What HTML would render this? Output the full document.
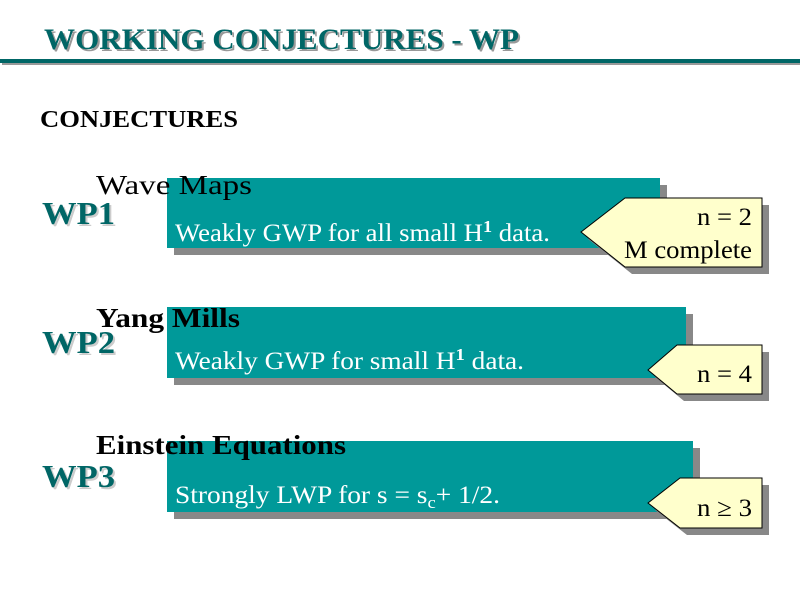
<!DOCTYPE html>
<html><head><meta charset="utf-8"><style>body{margin:0;background:#fff}svg{display:block}</style></head>
<body>
<svg width="800" height="600" xmlns="http://www.w3.org/2000/svg" font-family="'Liberation Serif', serif">
<rect width="800" height="600" fill="#fff"/>
<text x="44" y="49" font-size="30" font-weight="bold" fill="#999" transform="translate(2,2)" textLength="475" lengthAdjust="spacingAndGlyphs">WORKING CONJECTURES - WP</text>
<text x="44" y="49" font-size="30" font-weight="bold" fill="#006666" textLength="475" lengthAdjust="spacingAndGlyphs">WORKING CONJECTURES - WP</text>
<rect x="2" y="61" width="798" height="4" fill="#999"/>
<rect x="0" y="59" width="800" height="4" fill="#006666"/>
<text x="40" y="127" font-size="24" font-weight="bold" fill="#000" textLength="198" lengthAdjust="spacingAndGlyphs">CONJECTURES</text>

<!-- box1 -->
<rect x="174" y="185" width="493" height="70" fill="#888"/>
<rect x="167" y="178" width="493" height="70" fill="#009999"/>
<text x="96" y="194" font-size="27" fill="#000" textLength="156" lengthAdjust="spacingAndGlyphs">Wave Maps</text>
<text x="42" y="224" font-size="32" font-weight="bold" fill="#ccc" transform="translate(2,2)" textLength="73" lengthAdjust="spacingAndGlyphs">WP1</text>
<text x="42" y="224" font-size="32" font-weight="bold" fill="#006666" textLength="73" lengthAdjust="spacingAndGlyphs">WP1</text>
<text x="175" y="241" font-size="25" fill="#fff" textLength="375" lengthAdjust="spacingAndGlyphs">Weakly GWP for all small H<tspan font-size="17" dy="-9" font-weight="bold">1</tspan><tspan dy="9"> data.</tspan></text>
<polygon points="588,239 632,205 769,205 769,274 632,274" fill="#888"/>
<polygon points="581,232 625,198 762,198 762,267 625,267" fill="#ffffcc" stroke="#000" stroke-width="1"/>
<text x="752" y="225" font-size="25" text-anchor="end" textLength="55" lengthAdjust="spacingAndGlyphs">n = 2</text>
<text x="752" y="258" font-size="25" text-anchor="end" textLength="128" lengthAdjust="spacingAndGlyphs">M complete</text>

<!-- box2 -->
<rect x="174" y="314" width="519" height="71" fill="#888"/>
<rect x="167" y="307" width="519" height="71" fill="#009999"/>
<text x="96" y="327" font-size="27" font-weight="bold" fill="#000" textLength="144" lengthAdjust="spacingAndGlyphs">Yang Mills</text>
<text x="42" y="353" font-size="32" font-weight="bold" fill="#ccc" transform="translate(2,2)" textLength="73" lengthAdjust="spacingAndGlyphs">WP2</text>
<text x="42" y="353" font-size="32" font-weight="bold" fill="#006666" textLength="73" lengthAdjust="spacingAndGlyphs">WP2</text>
<text x="175" y="369" font-size="25" fill="#fff" textLength="349" lengthAdjust="spacingAndGlyphs">Weakly GWP for  small H<tspan font-size="17" dy="-9" font-weight="bold">1</tspan><tspan dy="9"> data.</tspan></text>
<polygon points="655,377 684,352 769,352 769,401 684,401" fill="#888"/>
<polygon points="648,370 677,345 762,345 762,394 677,394" fill="#ffffcc" stroke="#000" stroke-width="1"/>
<text x="752" y="382" font-size="25" text-anchor="end" textLength="55" lengthAdjust="spacingAndGlyphs">n = 4</text>

<!-- box3 -->
<rect x="174" y="448" width="526" height="71" fill="#888"/>
<rect x="167" y="441" width="526" height="71" fill="#009999"/>
<text x="96" y="454" font-size="27" font-weight="bold" fill="#000" textLength="250" lengthAdjust="spacingAndGlyphs">Einstein Equations</text>
<text x="42" y="487" font-size="32" font-weight="bold" fill="#ccc" transform="translate(2,2)" textLength="73" lengthAdjust="spacingAndGlyphs">WP3</text>
<text x="42" y="487" font-size="32" font-weight="bold" fill="#006666" textLength="73" lengthAdjust="spacingAndGlyphs">WP3</text>
<text x="175" y="503" font-size="25" fill="#fff" textLength="325" lengthAdjust="spacingAndGlyphs">Strongly LWP for  s = s<tspan font-size="17" dy="5">c</tspan><tspan dy="-5">+ 1/2.</tspan></text>
<polygon points="655,510 687,485 769,485 769,535 687,535" fill="#888"/>
<polygon points="648,503 680,478 762,478 762,528 680,528" fill="#ffffcc" stroke="#000" stroke-width="1"/>
<text x="752" y="516" font-size="25" text-anchor="end" textLength="55" lengthAdjust="spacingAndGlyphs">n ≥ 3</text>
</svg>
</body></html>
